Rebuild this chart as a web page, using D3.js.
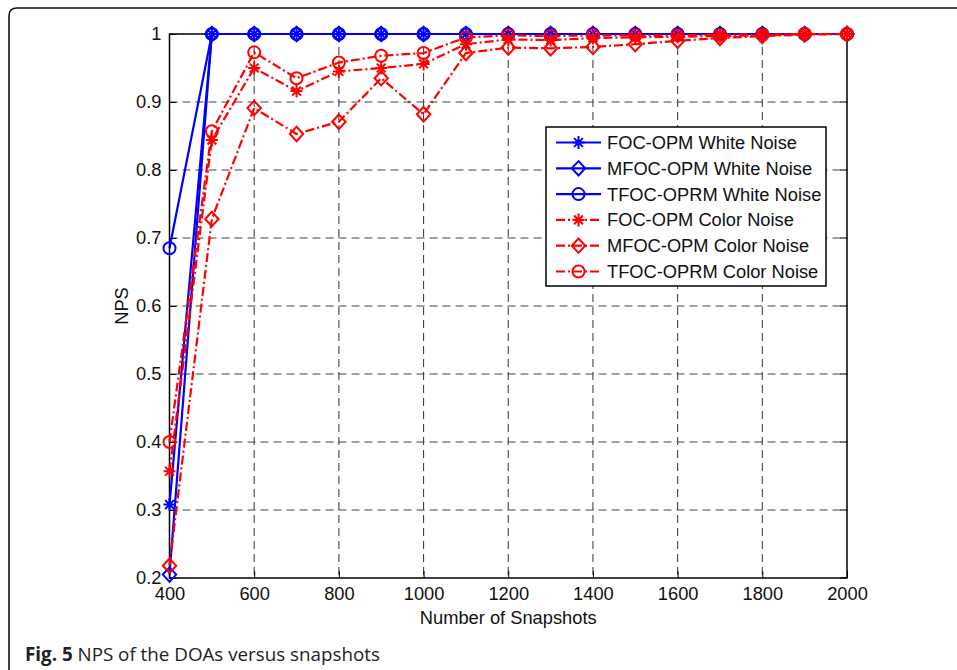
<!DOCTYPE html>
<html><head><meta charset="utf-8">
<script src="https://cdn.jsdelivr.net/npm/d3@7"></script>
<style>body{margin:0;background:#fff}svg{display:block}</style>
</head><body>
<svg id="c" width="957" height="670"></svg>
<script>
const snapshots = [400,500,600,700,800,900,1000,1100,1200,1300,1400,1500,1600,1700,1800,1900,2000];
const focWhite  = [0.308,1,1,1,1,1,1,1,1,1,1,1,1,1,1,1,1];
const mfocWhite = [0.205,1,1,1,1,1,1,1,1,1,1,1,1,1,1,1,1];
const tfocWhite = [0.685,1,1,1,1,1,1,1,1,1,1,1,1,1,1,1,1];
const focColor  = [0.357,0.844,0.950,0.916,0.945,0.950,0.956,0.985,0.992,0.991,0.994,0.995,0.996,0.997,0.998,1,1];
const mfocColor = [0.218,0.728,0.891,0.853,0.871,0.935,0.882,0.972,0.980,0.979,0.981,0.985,0.990,0.994,0.997,0.999,1];
const tfocColor = [0.400,0.857,0.973,0.935,0.958,0.968,0.972,0.995,0.998,0.997,0.998,0.998,0.998,0.999,0.999,1,1];
const seriesNames = ["FOC-OPM White Noise","MFOC-OPM White Noise","TFOC-OPRM White Noise","FOC-OPM Color Noise","MFOC-OPM Color Noise","TFOC-OPRM Color Noise"];
const xTicks = [400,600,800,1000,1200,1400,1600,1800,2000];
const yTicks = [0.2,0.3,0.4,0.5,0.6,0.7,0.8,0.9,1];
const xLabel = "Number of Snapshots";
const yLabel = "NPS";

const series = [
  {name: seriesNames[0], values: focWhite,  color:"#0000ff", marker:"star",    dash:null},
  {name: seriesNames[1], values: mfocWhite, color:"#0000ff", marker:"diamond", dash:null},
  {name: seriesNames[2], values: tfocWhite, color:"#0000ff", marker:"circle",  dash:null},
  {name: seriesNames[3], values: focColor,  color:"#ff0000", marker:"star",    dash:"9,3,2,3"},
  {name: seriesNames[4], values: mfocColor, color:"#ff0000", marker:"diamond", dash:"9,3,2,3"},
  {name: seriesNames[5], values: tfocColor, color:"#ff0000", marker:"circle",  dash:"9,3,2,3"}
];

const svg = d3.select("#c");
const L = 169.5, R = 847, T = 34, B = 578;
const x = d3.scaleLinear().domain([400,2000]).range([L,R]);
const y = d3.scaleLinear().domain([0.2,1]).range([B,T]);
const font = "'Liberation Sans', Arial, Helvetica, sans-serif";
const fs = "18.3px";

// frame
svg.append("path").attr("d","M9,672 L9,16 Q9,8 17,8 L960,8")
  .attr("fill","none").attr("stroke","#111").attr("stroke-width",1.6);

// grid
const g = svg.append("g");
g.selectAll(".gx").data(xTicks.slice(1,-1)).enter().append("line")
  .attr("x1",d=>x(d)).attr("x2",d=>x(d)).attr("y1",T).attr("y2",B)
  .attr("stroke","#444").attr("stroke-width",1.1).attr("stroke-dasharray","8,5");
g.selectAll(".gy").data(yTicks.slice(1,-1)).enter().append("line")
  .attr("y1",d=>y(d)).attr("y2",d=>y(d)).attr("x1",L).attr("x2",R)
  .attr("stroke","#444").attr("stroke-width",1.1).attr("stroke-dasharray","8,5");

// axes
const xAxis = d3.axisBottom(x).tickValues(xTicks).tickSize(-7).tickPadding(9).tickFormat(d3.format("d"));
const yAxis = d3.axisLeft(y).tickValues(yTicks).tickSize(-7).tickPadding(8).tickFormat(d=>d===1?"1":d3.format(".1f")(d));
const xa = svg.append("g").attr("transform",`translate(0,${B})`).call(xAxis);
const ya = svg.append("g").attr("transform",`translate(${L},0)`).call(yAxis);
[xa,ya].forEach(a=>{
  a.select(".domain").remove();
  a.selectAll("line").attr("stroke","#000");
  a.selectAll("text").attr("font-family",font).attr("font-size",fs).attr("fill","#111");
});
// top/right ticks
svg.append("g").selectAll("line").data(xTicks).enter().append("line")
  .attr("x1",d=>x(d)).attr("x2",d=>x(d)).attr("y1",T).attr("y2",T+7).attr("stroke","#000");
svg.append("g").selectAll("line").data(yTicks).enter().append("line")
  .attr("y1",d=>y(d)).attr("y2",d=>y(d)).attr("x1",R).attr("x2",R-7).attr("stroke","#000");
svg.append("rect").attr("x",L).attr("y",T).attr("width",R-L).attr("height",B-T)
  .attr("fill","none").attr("stroke","#000").attr("stroke-width",1.5);

svg.append("text").attr("x",(L+R)/2).attr("y",623.5).attr("text-anchor","middle")
  .attr("font-family",font).attr("font-size",fs).attr("fill","#111").text(xLabel);
svg.append("text").attr("transform",`translate(128,${(T+B)/2}) rotate(-90)`).attr("text-anchor","middle")
  .attr("font-family",font).attr("font-size",fs).attr("fill","#111").text(yLabel);

function drawMarker(sel, type, color){
  if(type==="circle"){
    sel.append("circle").attr("r",6).attr("fill","none").attr("stroke",color).attr("stroke-width",2);
  } else if(type==="diamond"){
    sel.append("path").attr("d","M0,-7.2 L6.7,0 L0,7.2 L-6.7,0 Z").attr("fill","none").attr("stroke",color).attr("stroke-width",2);
  } else {
    sel.append("path").attr("d","M-6,0 L6,0 M0,-6.5 L0,6.5 M-4.4,-4.4 L4.4,4.4 M-4.4,4.4 L4.4,-4.4")
      .attr("fill","none").attr("stroke",color).attr("stroke-width",2);
  }
}

const line = d3.line().x(d=>x(d[0])).y(d=>y(d[1]));
series.forEach(s=>{
  const pts = snapshots.map((v,i)=>[v,s.values[i]]);
  const sg = svg.append("g");
  sg.append("path").attr("d",line(pts)).attr("fill","none").attr("stroke",s.color)
    .attr("stroke-width",2.2).attr("stroke-dasharray",s.dash);
  pts.forEach(p=>{
    const m = sg.append("g").attr("transform",`translate(${x(p[0])},${y(p[1])})`);
    drawMarker(m, s.marker, s.color);
  });
});

// legend
const lg = svg.append("g");
lg.append("rect").attr("x",546).attr("y",127).attr("width",280).attr("height",159)
  .attr("fill","#fff").attr("stroke","#000").attr("stroke-width",1.5);
series.forEach((s,i)=>{
  const yy = 142.5 + i*25.8;
  lg.append("line").attr("x1",556).attr("x2",601).attr("y1",yy).attr("y2",yy)
    .attr("stroke",s.color).attr("stroke-width",2.2).attr("stroke-dasharray",s.dash);
  const m = lg.append("g").attr("transform",`translate(578.5,${yy})`);
  drawMarker(m, s.marker, s.color);
  lg.append("text").attr("x",607).attr("y",yy+6.5).attr("font-family",font)
    .attr("font-size",fs).attr("fill","#111").text(s.name);
});

// caption
const cap = svg.append("text").attr("x",25).attr("y",661).attr("font-family","'Open Sans', 'Noto Sans', sans-serif")
  .attr("font-size","18.8px").attr("fill","#222");
cap.append("tspan").attr("font-weight","bold").text("Fig. 5");
cap.append("tspan").text(" NPS of the DOAs versus snapshots");
</script>
</body></html>
